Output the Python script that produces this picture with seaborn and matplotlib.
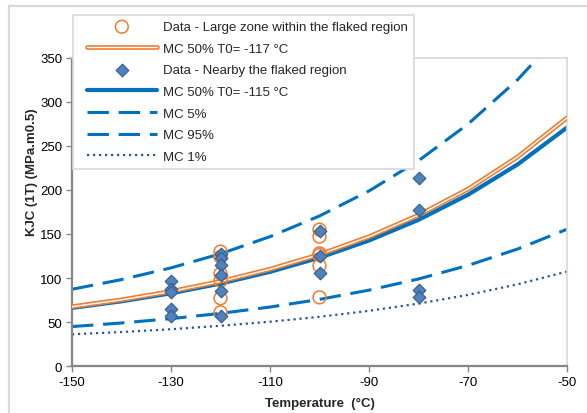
import matplotlib
matplotlib.use("Agg")
import matplotlib.pyplot as plt
import matplotlib.patheffects as pe
from matplotlib.lines import Line2D
from matplotlib.collections import PathCollection
from matplotlib.legend_handler import HandlerLine2D, HandlerPathCollection
import seaborn as sns

# ─── Data ────────────────────────────────────────────────────────────────────

TEMP_GRID = [-150, -140, -130, -120, -110, -100, -90, -80, -70, -60, -50]

MC50_T117 = [67.4, 75.2, 84.7, 96.1, 110.0, 126.7, 146.9, 171.4, 201.0, 237.5, 282.0]
MC50_T115 = [66.0, 73.5, 82.6, 93.7, 107.0, 123.1, 142.6, 166.1, 194.6, 229.0, 271.0]
MC05      = [44.8, 48.9, 53.8, 59.8, 67.0, 75.7, 86.2, 98.9, 114.3, 132.9, 155.4]
MC95      = [87.2, 98.2, 111.5, 127.5, 147.0, 170.5, 198.9, 233.3, 274.9, 325.2, 386.0]
MC01      = [36.0, 38.6, 41.8, 45.7, 50.3, 55.9, 62.7, 70.9, 80.8, 92.8, 107.3]

# large zone within the flaked region (orange circles)
LZ_TEMP = [-120, -120, -120, -120, -120, -120, -100, -100, -100, -100, -100, -100]
LZ_KJC  = [130, 124, 105, 97, 77, 61, 155, 147, 128, 126, 114, 78]

# nearby the flaked region (blue diamonds)
NB_TEMP = [-130, -130, -130, -130, -130,
           -120, -120, -120, -120, -120, -120,
           -100, -100, -100,
           -80, -80, -80, -80]
NB_KJC  = [97, 88, 84, 65, 57,
           127, 123, 115, 103, 85, 57,
           153, 125, 106,
           214, 177, 86, 78]

LABELS = [
    "Data - Large zone within the flaked region",
    "MC 50% T0= -117 \u00b0C",
    "Data - Nearby the flaked region",
    "MC 50% T0= -115 \u00b0C",
    "MC 5%",
    "MC 95%",
    "MC 1%",
]

ORANGE   = "#ED7D31"
BLUE     = "#0070C0"
DIAMOND  = "#4F81BD"
DIAM_EDG = "#385D8A"
DOT_BLUE = "#2F5597"
GRID_GR  = "#D9D9D9"
AXIS_GR  = "#868686"

# ─── Plot ────────────────────────────────────────────────────────────────────

sns.set_style("white")
plt.rcParams["font.family"] = ["Liberation Sans", "DejaVu Sans"]
plt.rcParams["axes.unicode_minus"] = False

fig = plt.figure(figsize=(5.87, 4.14), dpi=100)
ax = fig.add_axes([72 / 587, 1 - 367 / 414, (567 - 72) / 587, (367 - 59) / 414])

# master curves
sns.lineplot(x=TEMP_GRID, y=MC50_T117, ax=ax, color="white", lw=1.0, label=LABELS[1],
             path_effects=[pe.Stroke(linewidth=3.4, foreground=ORANGE), pe.Normal()], zorder=3)
sns.lineplot(x=TEMP_GRID, y=MC50_T115, ax=ax, color=BLUE, lw=3.0, label=LABELS[3], zorder=2)
sns.lineplot(x=TEMP_GRID, y=MC05, ax=ax, color=BLUE, lw=2.2, linestyle=(0, (7, 3.2)),
             label=LABELS[4], zorder=2)
sns.lineplot(x=TEMP_GRID, y=MC95, ax=ax, color=BLUE, lw=2.2, linestyle=(0, (7, 3.2)),
             label=LABELS[5], zorder=2)
sns.lineplot(x=TEMP_GRID, y=MC01, ax=ax, color=DOT_BLUE, lw=1.6, linestyle=(0, (1, 1.7)),
             label=LABELS[6], zorder=2)

# data points
sns.scatterplot(x=LZ_TEMP, y=LZ_KJC, ax=ax, marker="o", s=85, facecolor="none",
                edgecolor=ORANGE, linewidth=1.1, label=LABELS[0], zorder=4)
sns.scatterplot(x=NB_TEMP, y=NB_KJC, ax=ax, marker="D", s=42, color=DIAMOND,
                edgecolor=DIAM_EDG, linewidth=0.8, label=LABELS[2], zorder=5)

ax.set_xlim(-150, -50)
ax.set_ylim(0, 350)
ax.set_xticks(range(-150, -49, 20))
ax.set_yticks(range(0, 351, 50))

ax.set_xlabel("Temperature  (\u00b0C)", fontsize=9.5, fontweight="bold", labelpad=7)
ax.set_ylabel("KJC (1T) (MPa.m0.5)", fontsize=9.5, fontweight="bold")
ax.yaxis.set_label_coords(-0.068, 0.633)

ax.tick_params(axis="both", labelsize=9.5, colors="black", length=4, width=1,
               direction="out", pad=3)
ax.tick_params(axis="both", color=AXIS_GR)
ax.xaxis.set_ticks_position("bottom")
ax.yaxis.set_ticks_position("left")

for side in ["left", "bottom"]:
    ax.spines[side].set_color(AXIS_GR)
    ax.spines[side].set_linewidth(1.6)
for side in ["top", "right"]:
    ax.spines[side].set_color(GRID_GR)
    ax.spines[side].set_linewidth(1.2)

# legend in the original order; xpad pushes the handle samples to the right
handles, labels = ax.get_legend_handles_labels()
lookup = dict(zip(labels, handles))
hmap = {Line2D: HandlerLine2D(xpad=0.6), PathCollection: HandlerPathCollection(xpad=0.6)}
leg = ax.legend([lookup[l] for l in LABELS], LABELS, loc="upper left",
                bbox_to_anchor=(73 / 587, 1 - 16 / 414), bbox_transform=fig.transFigure,
                borderaxespad=0, fontsize=9.5, frameon=True, fancybox=False,
                framealpha=1, edgecolor=GRID_GR, handlelength=5.9, handletextpad=0.45,
                labelspacing=0.71, borderpad=0.45, handler_map=hmap)
leg.get_frame().set_linewidth(1.2)
leg.set_zorder(10)

# chart-area border (top and left visible)
fig.add_artist(Line2D([9 / 587, 1], [1 - 7 / 414, 1 - 7 / 414], transform=fig.transFigure,
                      color=GRID_GR, lw=1.6))
fig.add_artist(Line2D([9 / 587, 9 / 587], [0, 1 - 7 / 414], transform=fig.transFigure,
                      color=GRID_GR, lw=1.6))

fig.savefig("out.png", dpi=100)
